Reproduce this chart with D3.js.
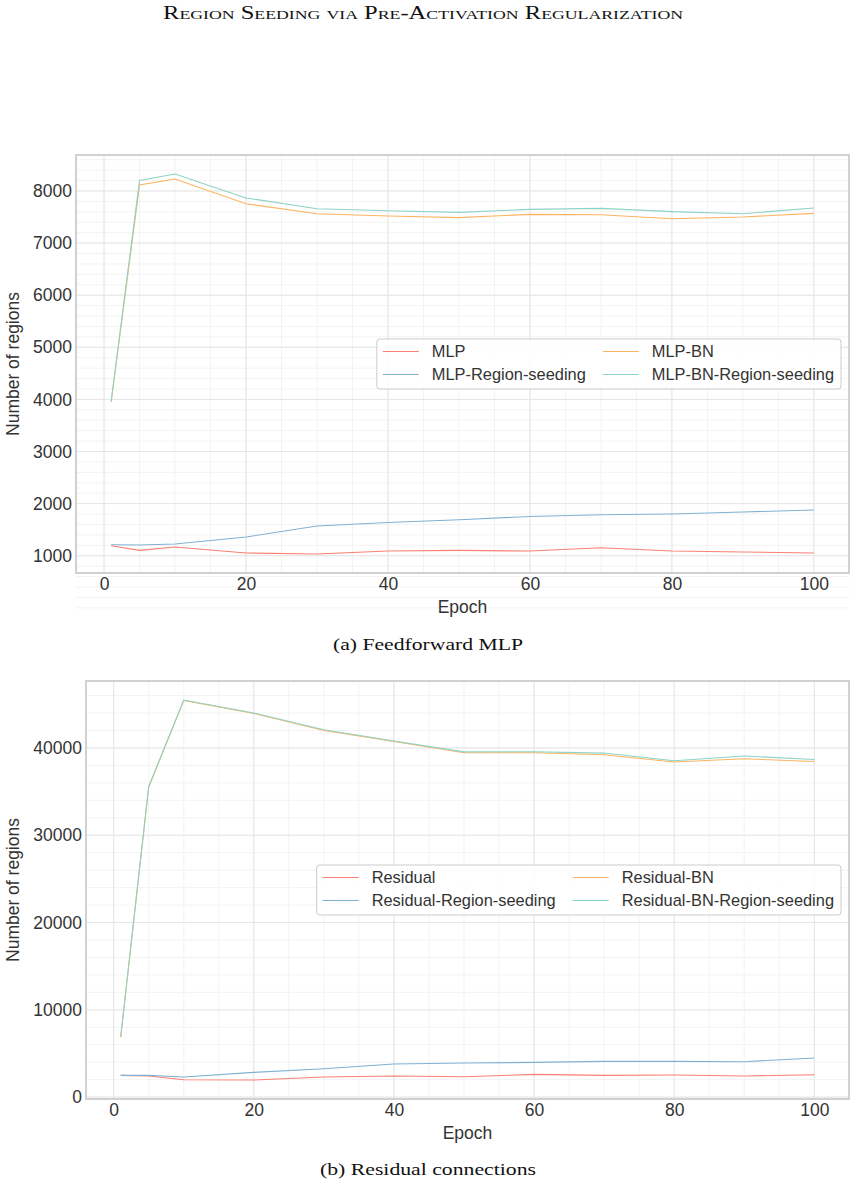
<!DOCTYPE html>
<html>
<head>
<meta charset="utf-8">
<script src="https://cdn.jsdelivr.net/npm/d3@7"></script>
<style>
  body { margin: 0; background: #fff; }
  svg text { font-family: "Liberation Sans", Arial, sans-serif; }
  .serif { font-family: "Liberation Serif", "DejaVu Serif", serif !important; }
</style>
</head>
<body>
<svg id="fig" width="856" height="1187"></svg>
<script>
// epochs shared by both panels
const epochs = [1, 5, 10, 20, 30, 40, 50, 60, 70, 80, 90, 100];

// (a) feedforward MLP
const mlpNames = ["MLP", "MLP-Region-seeding", "MLP-BN", "MLP-BN-Region-seeding"];
const mlp      = [1192, 1102, 1167, 1052, 1033, 1090, 1102, 1090, 1154, 1090, 1071, 1052];
const mlpRS    = [1211, 1205, 1224, 1359, 1570, 1639, 1691, 1754, 1787, 1800, 1839, 1877];
const mlpBN    = [3950, 8115, 8230, 7756, 7564, 7520, 7488, 7551, 7545, 7468, 7501, 7570];
const mlpBNRS  = [3960, 8203, 8326, 7866, 7660, 7622, 7589, 7647, 7666, 7603, 7564, 7674];

// (b) residual connections
const resNames = ["Residual", "Residual-Region-seeding", "Residual-BN", "Residual-BN-Region-seeding"];
const res      = [2490, 2415, 1990, 1960, 2300, 2415, 2340, 2600, 2490, 2530, 2415, 2565];
const resRS    = [2490, 2490, 2300, 2830, 3253, 3790, 3905, 3975, 4090, 4090, 4055, 4480];
const resBN    = [6850, 35500, 45450, 43950, 42000, 40750, 39450, 39450, 39220, 38380, 38760, 38450];
const resBNRS  = [6884, 35590, 45490, 44000, 42085, 40800, 39550, 39560, 39410, 38530, 39070, 38680];

const xTicks = [0, 20, 40, 60, 80, 100];
const yTicksA = [1000, 2000, 3000, 4000, 5000, 6000, 7000, 8000];
const yTicksB = [0, 10000, 20000, 30000, 40000];

// order: red, blue, orange, teal (legend fills column-wise)
const colors = ["#FB8072", "#80B1D3", "#FDB462", "#8DD3C7"];

const svg = d3.select("#fig");

// serif text stretched to the width of the LaTeX original
function serifText(x, y, size, width, str, smallCaps) {
  const t = svg.append("text").attr("class", "serif")
    .attr("x", x).attr("y", y).attr("text-anchor", "middle")
    .style("font-size", size + "px").style("fill", "#111")
    .attr("textLength", width).attr("lengthAdjust", "spacingAndGlyphs")
    .text(str);
  if (smallCaps) t.style("font-variant", "small-caps");
  return t;
}

serifText(423, 19, 18, 520, "Region Seeding via Pre-Activation Regularization", true);

function panel(o) {
  const g = svg.append("g");
  const x = d3.scaleLinear().domain([1 - 4.95, 100 + 4.95]).range([o.left, o.right]);
  const all = o.series.flat();
  const lo = d3.min(all), hi = d3.max(all), pad = (hi - lo) * 0.05;
  const y = d3.scaleLinear().domain([lo - pad, hi + pad]).range([o.bottom, o.top]);

  // minor grid
  g.append("g").selectAll("line").data(d3.range(0, 101, 5)).join("line")
    .attr("x1", d => x(d)).attr("x2", d => x(d)).attr("y1", o.top).attr("y2", o.bottom)
    .attr("stroke", "#f3f3f3").attr("stroke-width", 1);
  g.append("g").selectAll("line").data(d3.range(o.minor[0], hi + pad, o.minor[1])).join("line")
    .attr("y1", d => y(d)).attr("y2", d => y(d)).attr("x1", o.left).attr("x2", o.right)
    .attr("stroke", "#f3f3f3").attr("stroke-width", 1);
  // major grid
  g.append("g").selectAll("line").data(xTicks).join("line")
    .attr("x1", d => x(d)).attr("x2", d => x(d)).attr("y1", o.top).attr("y2", o.bottom)
    .attr("stroke", "#e6e6e6").attr("stroke-width", 1);
  g.append("g").selectAll("line").data(o.yTicks).join("line")
    .attr("y1", d => y(d)).attr("y2", d => y(d)).attr("x1", o.left).attr("x2", o.right)
    .attr("stroke", "#e6e6e6").attr("stroke-width", 1);

  // axes (labels only, whitegrid style has no tick marks)
  const ax = g.append("g").attr("transform", `translate(0,${o.bottom})`)
    .call(d3.axisBottom(x).tickValues(xTicks).tickSize(0).tickPadding(5));
  const ay = g.append("g").attr("transform", `translate(${o.left},0)`)
    .call(d3.axisLeft(y).tickValues(o.yTicks).tickSize(0).tickPadding(4).tickFormat(d3.format("d")));
  [ax, ay].forEach(a => {
    a.select(".domain").remove();
    a.selectAll("text").style("font-size", "17.5px").style("fill", "#333")
      .style("font-family", "Liberation Sans, Arial, sans-serif");
  });

  const line = d3.line().x((d, i) => x(epochs[i])).y(d => y(d));
  o.series.forEach((s, k) => {
    g.append("path").datum(s).attr("d", line)
      .attr("fill", "none").attr("stroke", colors[k]).attr("stroke-width", 1.1);
  });

  g.append("rect").attr("x", o.left).attr("y", o.top)
    .attr("width", o.right - o.left).attr("height", o.bottom - o.top)
    .attr("fill", "none").attr("stroke", "#cccccc").attr("stroke-width", 1.8);

  g.append("text").attr("x", (o.left + o.right) / 2).attr("y", o.bottom + 40)
    .attr("text-anchor", "middle").style("font-size", "17.5px").style("fill", "#333").text("Epoch");
  g.append("text")
    .attr("transform", `translate(19,${(o.top + o.bottom) / 2}) rotate(-90)`)
    .attr("text-anchor", "middle").style("font-size", "17.5px").style("fill", "#333")
    .text("Number of regions");

  // legend, center right
  const lg = g.append("g");
  const box = lg.append("rect");
  const items = o.names.map((n, k) => ({ n, k, col: Math.floor(k / 2), row: k % 2 }));
  const texts = lg.selectAll("text").data(items).join("text")
    .style("font-size", "16.4px").style("fill", "#333").text(d => d.n);
  const w = [0, 0];
  texts.each(function (d) { w[d.col] = Math.max(w[d.col], this.getComputedTextLength()); });
  const handle = 36, gapT = 13, padL = 6, colGap = 17, padR = 7;
  const bw = padL + handle + gapT + w[0] + colGap + handle + gapT + w[1] + padR;
  const bh = 50;
  const bx = o.right - 8 - bw, by = (o.top + o.bottom) / 2 - bh / 2;
  box.attr("x", bx).attr("y", by).attr("width", bw).attr("height", bh).attr("rx", 3)
    .attr("fill", "rgba(255,255,255,0.85)").attr("stroke", "#cccccc").attr("stroke-width", 1);
  const colX = [bx + padL, bx + padL + handle + gapT + w[0] + colGap];
  const rowY = [by + 12.5, by + 35.5];
  lg.selectAll("line").data(items).join("line")
    .attr("x1", d => colX[d.col]).attr("x2", d => colX[d.col] + handle)
    .attr("y1", d => rowY[d.row]).attr("y2", d => rowY[d.row])
    .attr("stroke", d => colors[d.k]).attr("stroke-width", 1.2);
  texts.attr("x", d => colX[d.col] + handle + gapT).attr("y", d => rowY[d.row])
    .attr("dy", "0.35em");

  serifText(428, o.caption, 17.5, o.capWidth, o.title, false);
}

panel({
  left: 76, right: 849, top: 155, bottom: 573,
  series: [mlp, mlpRS, mlpBN, mlpBNRS], names: mlpNames,
  yTicks: yTicksA, minor: [0, 200], caption: 650, capWidth: 190, title: "(a) Feedforward MLP"
});
panel({
  left: 86, right: 849, top: 681, bottom: 1099,
  series: [res, resRS, resBN, resBNRS], names: resNames,
  yTicks: yTicksB, minor: [0, 2000], caption: 1175, capWidth: 216, title: "(b) Residual connections"
});
</script>
</body>
</html>
